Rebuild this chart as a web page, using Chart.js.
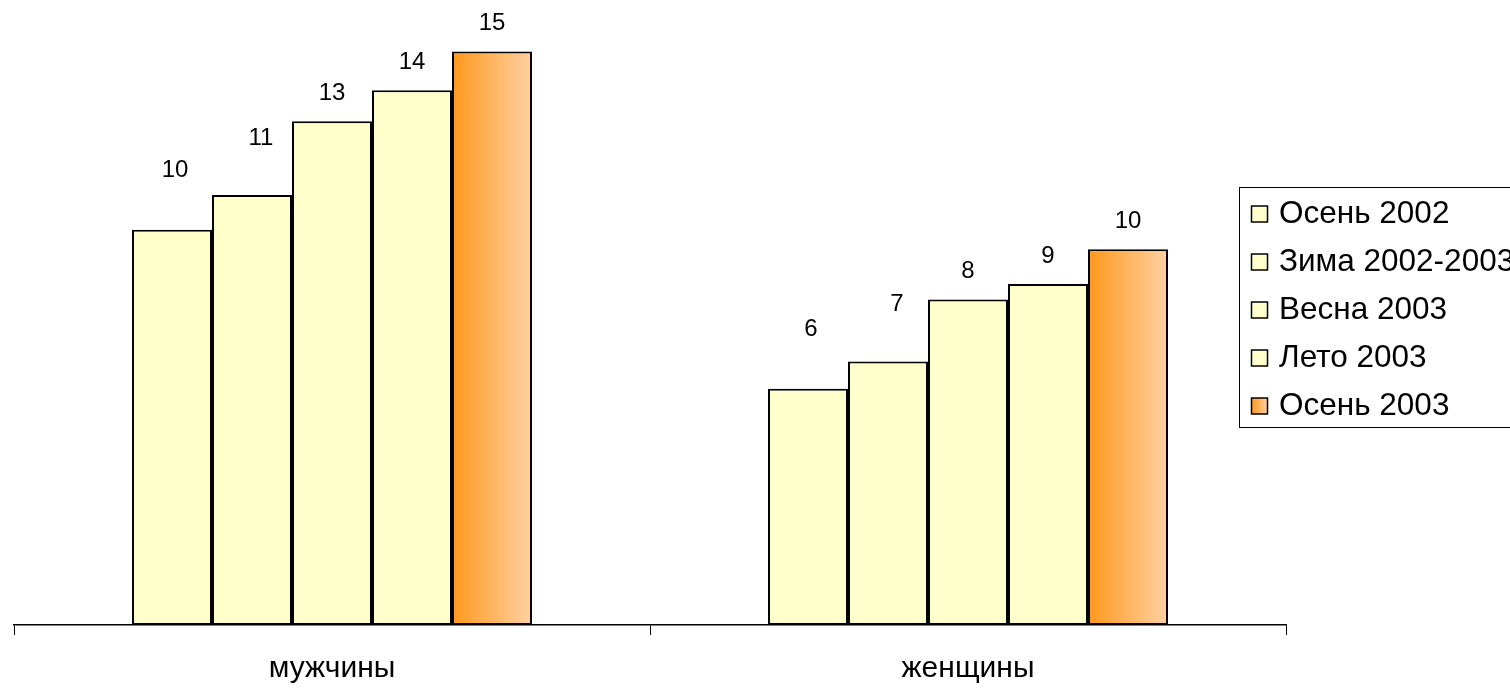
<!DOCTYPE html>
<html><head><meta charset="utf-8">
<script src="https://cdn.jsdelivr.net/npm/chart.js@4.4.1/dist/chart.umd.min.js"></script>
<style>html,body{margin:0;padding:0;background:#fff;overflow:hidden}#wrap{width:1510px;height:688px;position:relative}</style>
</head><body><div id="wrap"><canvas id="c" width="1510" height="688"></canvas></div>
<script>
// ---- data ----
const categories = ['мужчины', 'женщины'];
const seriesNames = ['Осень 2002', 'Зима 2002-2003', 'Весна 2003', 'Лето 2003', 'Осень 2003'];
const autumn2002 = [10.2, 6.1];
const winter2002_2003 = [11.1, 6.8];
const spring2003 = [13.0, 8.4];
const summer2003 = [13.8, 8.8];
const autumn2003 = [14.8, 9.7];
const seriesValues = [autumn2002, winter2002_2003, spring2003, summer2003, autumn2003];

// ---- styles ----
const FONT = '"Liberation Sans", Arial, sans-serif';
const CAT_PCT = 0.629;
const PALE = '#FFFFCC';
const labelLift = [59, 57, 28, 28, 28];
const labelShiftX = [3, 9, 0, 0, 0];

function orangeGrad(ctx2d, x0, x1) {
  const g = ctx2d.createLinearGradient(x0, 0, x1, 0);
  g.addColorStop(0, '#FF981C');
  g.addColorStop(1, '#FFD1A3');
  return g;
}

function barFill(c) {
  if (c.datasetIndex !== 4) return PALE;
  const ch = c.chart, xs = ch.scales.x;
  if (!xs || c.dataIndex === undefined || !isFinite(xs.width)) return '#FF981C';
  const catW = xs.width / categories.length;
  const barW = catW * CAT_PCT / seriesNames.length;
  const center = xs.getPixelForValue(c.dataIndex);
  const left = center - catW * CAT_PCT / 2 + c.datasetIndex * barW;
  return orangeGrad(ch.ctx, left, left + barW);
}

const valueLabels = {
  id: 'valueLabels',
  afterDatasetsDraw(chart) {
    const ctx = chart.ctx;
    ctx.save();
    ctx.font = '24px ' + FONT;
    ctx.fillStyle = '#000';
    ctx.textAlign = 'center';
    ctx.textBaseline = 'middle';
    chart.data.datasets.forEach((ds, di) => {
      const meta = chart.getDatasetMeta(di);
      meta.data.forEach((el, i) => {
        ctx.fillText(String(Math.round(ds.data[i])), el.x + labelShiftX[di], el.y - labelLift[di]);
      });
    });
    ctx.restore();
  }
};

const boxLegend = {
  id: 'boxLegend',
  afterDraw(chart) {
    const ctx = chart.ctx;
    ctx.save();
    const bx = 1239.5, by = 187.5, bw = 400, bh = 240;
    ctx.fillStyle = '#fff';
    ctx.fillRect(bx, by, bw, bh);
    ctx.strokeStyle = '#000';
    ctx.lineWidth = 1;
    ctx.strokeRect(bx, by, bw, bh);
    ctx.font = '31.5px ' + FONT;
    ctx.textBaseline = 'middle';
    ctx.textAlign = 'left';
    chart.data.datasets.forEach((ds, i) => {
      const cy = 214 + i * 48;
      const mx = 1251.5, ms = 16;
      ctx.fillStyle = i === 4 ? orangeGrad(ctx, mx, mx + ms) : PALE;
      ctx.fillRect(mx, cy - ms / 2, ms, ms);
      ctx.lineWidth = 1.5;
      ctx.strokeStyle = '#000';
      ctx.strokeRect(mx, cy - ms / 2, ms, ms);
      ctx.fillStyle = '#000';
      ctx.fillText(ds.label, 1279, cy);
    });
    ctx.restore();
  }
};

new Chart(document.getElementById('c'), {
  type: 'bar',
  data: {
    labels: categories,
    datasets: seriesNames.map((name, i) => ({
      label: name,
      data: seriesValues[i],
      backgroundColor: barFill,
      borderColor: '#000',
      borderWidth: 2,
      borderSkipped: false,
      barPercentage: 1,
      categoryPercentage: CAT_PCT
    }))
  },
  options: {
    responsive: false,
    animation: false,
    devicePixelRatio: 1,
    layout: { padding: { left: 14, right: 224, top: 5, bottom: 0 } },
    plugins: { legend: { display: false }, tooltip: { enabled: false } },
    scales: {
      x: {
        offset: true,
        grid: { display: true, drawOnChartArea: false, drawTicks: true, tickLength: 10, offset: true, color: '#000', lineWidth: 1 },
        border: { display: true, color: '#000', width: 1.5 },
        ticks: { color: '#000', font: { family: FONT, size: 30 }, padding: 16, maxRotation: 0 },
        afterFit(s) { s.height = 63; }
      },
      y: {
        display: false,
        min: 0,
        max: 16
      }
    }
  },
  plugins: [valueLabels, boxLegend]
});
</script>
</body></html>
